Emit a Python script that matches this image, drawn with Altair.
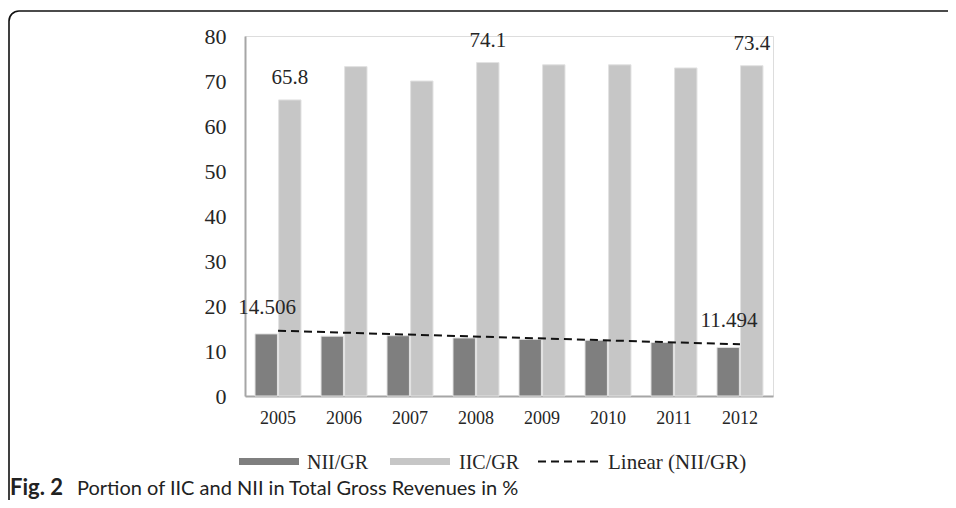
import altair as alt
import pandas as pd

# ---- data ----
years = ["2005", "2006", "2007", "2008", "2009", "2010", "2011", "2012"]
nii_gr = [13.8, 13.3, 13.4, 12.9, 12.6, 12.4, 11.9, 10.8]
iic_gr = [65.8, 73.2, 70.0, 74.1, 73.6, 73.6, 72.9, 73.4]
series = ["NII/GR", "IIC/GR"]
series_colors = ["#7f7f7f", "#c6c6c6"]
labelled_iic_years = ["2005", "2008", "2012"]
trend_years = ["2005", "2012"]
trend_values = [14.506, 11.494]
y_ticks = [0, 10, 20, 30, 40, 50, 60, 70, 80]
legend_labels = ["NII/GR", "IIC/GR", "Linear (NII/GR)"]
caption_bold = "Fig. 2"
caption_rest = "Portion of IIC and NII in Total Gross Revenues in %"

SERIF = "Liberation Serif"
TXT = "#262626"
AXIS_GRAY = "#a6a6a6"

bars_df = pd.DataFrame({
    "year": years * 2,
    "series": [series[0]] * len(years) + [series[1]] * len(years),
    "value": nii_gr + iic_gr,
})
iic_lab_df = bars_df[(bars_df.series == series[1]) & (bars_df.year.isin(labelled_iic_years))]
trend_df = pd.DataFrame({"year": trend_years, "value": trend_values})
one = pd.DataFrame({"k": [0]})

x_enc = alt.X(
    "year:N",
    sort=years,
    scale=alt.Scale(domain=years, paddingInner=0.303, paddingOuter=0.152),
    axis=alt.Axis(title=None, labelAngle=0, ticks=False, tickSize=0,
                  domainColor=AXIS_GRAY, domainWidth=2,
                  labelFont=SERIF, labelFontSize=18, labelColor=TXT,
                  labelPadding=13),
)
y_enc = alt.Y(
    "value:Q",
    scale=alt.Scale(domain=[0, 80], nice=False),
    axis=alt.Axis(title=None, values=y_ticks, grid=False, ticks=False, tickSize=0,
                  domainColor=AXIS_GRAY, domainWidth=2,
                  labelFont=SERIF, labelFontSize=22, labelColor=TXT,
                  labelPadding=19),
)
xoff = alt.XOffset("series:N", sort=series,
                   scale=alt.Scale(domain=series, paddingInner=0.05, paddingOuter=0))

frame = alt.Chart(one).mark_rect(
    fillOpacity=0, stroke="#111111", strokeWidth=1.6, cornerRadiusTopLeft=10
).encode(x=alt.value(-236), x2=alt.value(900), y=alt.value(-25), y2=alt.value(700))

bars = alt.Chart(bars_df).mark_bar(stroke="#e2e2e2", strokeWidth=1).encode(
    x=x_enc, xOffset=xoff, y=y_enc,
    color=alt.Color("series:N", scale=alt.Scale(domain=series, range=series_colors), legend=None),
)

iic_labels = alt.Chart(iic_lab_df).mark_text(
    font=SERIF, fontSize=21, color=TXT, dy=-22, baseline="middle"
).encode(x=x_enc, xOffset=xoff, y=y_enc, text=alt.Text("value:Q", format=".1f"))

trend = alt.Chart(trend_df).mark_line(
    color="#111111", strokeWidth=2, strokeDash=[8, 5]
).encode(x=x_enc, y=y_enc)

trend_labels = alt.Chart(trend_df).mark_text(
    font=SERIF, fontSize=21, color=TXT, dx=-11, dy=-23, baseline="middle"
).encode(x=x_enc, y=y_enc, text=alt.Text("value:Q", format=".3f"))

# ---- legend (drawn by hand) ----
leg_nii = alt.Chart(one).mark_rect(color=series_colors[0]).encode(
    x=alt.value(-6), x2=alt.value(54), y=alt.value(422), y2=alt.value(429))
leg_iic = alt.Chart(one).mark_rect(color=series_colors[1]).encode(
    x=alt.value(145), x2=alt.value(205), y=alt.value(422), y2=alt.value(429))
leg_dash = alt.Chart(one).mark_rule(color="#111111", strokeWidth=2, strokeDash=[8, 5]).encode(
    x=alt.value(293), x2=alt.value(353), y=alt.value(425.5))
leg_t1 = alt.Chart(one).mark_text(font=SERIF, fontSize=20, color=TXT, align="left", baseline="middle").encode(
    x=alt.value(62), y=alt.value(427), text=alt.value(legend_labels[0]))
leg_t2 = alt.Chart(one).mark_text(font=SERIF, fontSize=20, color=TXT, align="left", baseline="middle").encode(
    x=alt.value(214), y=alt.value(427), text=alt.value(legend_labels[1]))
leg_t3 = alt.Chart(one).mark_text(font=SERIF, fontSize=21, color=TXT, align="left", baseline="middle").encode(
    x=alt.value(363), y=alt.value(427), text=alt.value(legend_labels[2]))

# ---- caption ----
cap1 = alt.Chart(one).mark_text(font="Lato", fontSize=22, fontWeight="bold", color="#222222",
                                align="left", baseline="alphabetic").encode(
    x=alt.value(-235), y=alt.value(459), text=alt.value(caption_bold))
cap2 = alt.Chart(one).mark_text(font="Lato", fontSize=20, color="#222222",
                                align="left", baseline="alphabetic").encode(
    x=alt.value(-168), y=alt.value(459), text=alt.value(caption_rest))

chart = alt.layer(
    frame, bars, trend, iic_labels, trend_labels,
    leg_nii, leg_iic, leg_dash, leg_t1, leg_t2, leg_t3, cap1, cap2,
).properties(
    width=528, height=360,
    autosize=alt.AutoSizeParams(type="none"),
    padding={"left": 237, "top": 28, "right": 175, "bottom": 104},
).configure_view(stroke=None).configure(background="white")

chart.save("out.html", embed_options={"renderer": "svg", "actions": False})
